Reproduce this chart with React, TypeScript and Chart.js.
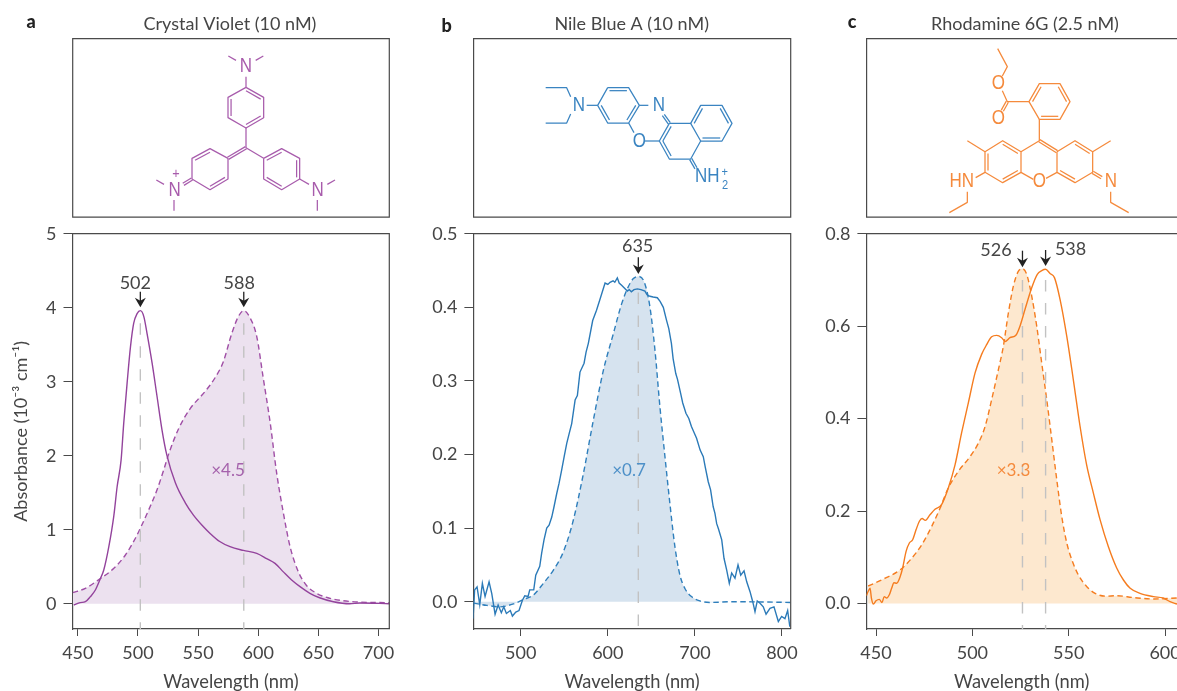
import React, { useEffect, useRef } from "react";
import { Chart, registerables } from "chart.js";

Chart.register(...registerables);

const W = 1177;
const H = 691;
const FONT = 'Lato, "Open Sans", sans-serif';
const INK = "#454545";
const FRAME = "#4a4a4a";
const GUIDE = "#c2c2c2";

// ---------- data ----------
const aSolidX = [446.7,452,456.3,460.5,464.6,468.8,471.6,475.8,479.9,482.7,486,488.2,491,493.8,496.5,499.3,502,504.9,507.6,511.8,515.9,520,524,531.2,539.5,546,553.3,560,568,576.6,587.7,598.8,607,614,620.9,627.8,634.8,643,651,662.5,676,684.6,709];
const aSolidY = [-0.018,0.014,0.027,0.095,0.185,0.34,0.455,0.77,1.18,1.58,1.94,2.44,2.98,3.47,3.79,3.92,3.96,3.88,3.65,3.25,2.8,2.35,2.01,1.63,1.36,1.2,1.06,0.95,0.84,0.77,0.72,0.68,0.61,0.545,0.43,0.32,0.23,0.14,0.08,0.027,0,0.01,0];
const aDashX = [445.8,456.3,468.8,480,489.6,497.9,502,509,515.9,521.5,525.7,534,543.6,553.3,557,564,571,578,583.5,588,593,598.8,604,610,615.4,621,626.5,633.4,640,648.6,658,670.8,684.6,709];
const aDashY = [0.149,0.208,0.34,0.478,0.658,0.884,1.02,1.27,1.54,1.81,2.03,2.37,2.64,2.82,2.89,3.05,3.27,3.65,3.88,3.96,3.87,3.61,3.07,2.44,1.76,1.22,0.77,0.43,0.25,0.14,0.08,0.04,0.022,0.013];
const aPeaks = [502, 588];
const aPeakTop = 3.79;

const bSolidX = [445.2,447,449.8,452.9,455.9,459,463.6,466.7,470.5,474,477.7,480.5,483.5,488,490.4,494.3,498,501.9,504.6,508.4,510.3,514.9,517.2,521.8,524,526.7,529.8,532.5,535.6,538,541.3,544,547,550,552.8,555.5,558.5,562.4,565,568,572.7,575,577.6,582.6,587,591.8,596.8,600,602.5,606,608,610.9,613,615.8,622.4,624.6,627,630,634,638,642.6,645,648.4,652,656.8,660,663.7,667.5,670,673,675,678,680,683.6,686,689.7,693,696,699,701.9,706,709.6,712,715.3,718,721,723,725,727,730.8,733.4,736.5,739.5,742.2,746,749.5,752.6,756.4,759.5,763.3,766.4,769,771.6,774.8,778.5,781.7,786.2,790.8,795.8,799.6,803.4,806.5,809];
const bSolidY = [-0.023,0.016,0.02,-0.004,0.025,0.007,0.027,0.011,-0.017,-0.0045,-0.015,-0.007,-0.016,-0.012,-0.0195,-0.014,-0.012,0.002,0.008,0.007,0.016,0.016,0.036,0.048,0.066,0.084,0.1,0.104,0.115,0.128,0.147,0.161,0.179,0.198,0.215,0.228,0.242,0.274,0.28,0.312,0.324,0.339,0.351,0.382,0.396,0.414,0.433,0.431,0.434,0.436,0.434,0.44,0.433,0.43,0.422,0.424,0.421,0.424,0.425,0.424,0.422,0.417,0.415,0.414,0.413,0.408,0.4,0.382,0.371,0.351,0.33,0.31,0.302,0.283,0.27,0.256,0.249,0.238,0.23,0.222,0.206,0.197,0.182,0.163,0.152,0.129,0.12,0.106,0.099,0.084,0.059,0.043,0.025,0.039,0.032,0.05,0.036,0.042,0.027,0.0136,0,-0.0136,0.001,-0.002,-0.007,-0.017,-0.009,-0.007,-0.027,-0.02,-0.023,-0.012,-0.034];
const bDashX = [445.7,461,476,491.6,503,514.5,526,537.5,549,560.4,571.9,583.4,594.8,606.3,615.9,623.5,629.3,635.4,641.9,648.4,654.1,659.8,665.6,671.3,677,682.8,688.5,696,705.7,717,744,809.8];
const bDashY = [-0.002,-0.005,-0.007,-0.003,0.003,0.009,0.025,0.043,0.068,0.111,0.174,0.247,0.314,0.364,0.405,0.428,0.439,0.442,0.434,0.4,0.342,0.265,0.197,0.133,0.075,0.036,0.018,0.007,0.001,-0.001,0,-0.001];
const bPeaks = [635];
const bPeakTop = 0.42;

const cSolidX = [445,445.9,446.9,447.6,448.6,450,451.7,453.1,454.2,455.5,456.9,458.1,459.3,460.7,462.5,463.8,465.6,467.3,469,470.8,472.5,473.9,475.6,478,480.6,484,487.5,491,494.4,497.9,501.4,504.8,507.4,510,512.6,515.2,517,519.5,522.7,524.7,527.3,530.8,533.7,536,538,540.3,542.6,545.5,549,552.4,555.9,559.3,562.8,566.3,570.6,574.9,578.4,581.9,587,594,599,602.6,606.2];
const cSolidY = [0.017,0.026,0.033,0.012,-0.001,0.006,0.009,0.002,0.015,0.012,0.019,0.033,0.045,0.044,0.058,0.077,0.113,0.131,0.138,0.16,0.178,0.184,0.18,0.192,0.204,0.214,0.25,0.3,0.369,0.434,0.499,0.539,0.56,0.577,0.58,0.575,0.567,0.575,0.581,0.6,0.636,0.683,0.712,0.72,0.723,0.714,0.705,0.658,0.578,0.484,0.383,0.3,0.239,0.181,0.123,0.077,0.051,0.033,0.022,0.015,0.012,0.004,-0.001];
const cDashX = [445.9,453.8,462.5,468.5,473.7,478.9,483.2,487.5,492.7,498.8,503.1,506.6,510,513.5,516.1,518.7,521.3,523.9,526.1,528.2,530.8,533.4,536,538.6,541.2,543.8,546.4,549,551.6,555,559.3,563.7,568.9,575,583.6,594,606.2];
const cDashY = [0.038,0.053,0.073,0.098,0.127,0.167,0.206,0.25,0.286,0.318,0.347,0.383,0.441,0.506,0.557,0.629,0.687,0.719,0.724,0.712,0.665,0.6,0.52,0.441,0.355,0.268,0.188,0.131,0.095,0.062,0.037,0.022,0.016,0.017,0.013,0.01,0.012];
const cPeaks = [526, 538];
const cPeakTop = 0.7;

const aXTicks = [450, 500, 550, 600, 650, 700];
const bXTicks = [500, 600, 700, 800];
const cXTicks = [450, 500, 550, 600];
const aYTicks = [0, 1, 2, 3, 4, 5];
const bYTicks = [0, 0.1, 0.2, 0.3, 0.4, 0.5];
const cYTicks = [0, 0.2, 0.4, 0.6, 0.8];

const aPeakLabels = ["502", "588"];
const bPeakLabels = ["635"];
const cPeakLabels = ["526", "538"];

// ---------- molecule drawings (crop-space geometry, 3 units = 1 px) ----------
type Mol = {
  ox: number; oy: number; color: string;
  lines: number[][]; inner: number[][]; pairs: number[][];
  labels: [string, number, number, number][];
};

const crystalViolet: Mol = {
  ox: 0, oy: 0, color: "#a85cac",
  lines: [
    [685,168,708,181],[790,168,767,181],[738,230,738,262],
    [738,262,791,292,791,353,738,384,684,353,684,292,738,262],
    [738,384,738,443,791,475],
    [684,475,684,537,630,569,576,537,576,475,630,446,684,475],
    [791,475,845,446,899,475,899,537,845,569,791,537,791,475],
    [899,537,927,553],[982,553,1005,540],[952,600,952,632],
    [469,540,492,553],[522,600,522,632],
  ],
  inner: [
    [738,262,791,292,738,323],[684,292,684,353,738,323],[791,353,738,384,738,323],
    [576,475,630,446,630,508],[684,537,630,569,630,508],
    [791,475,845,446,845,508],[899,475,899,537,845,508],[845,569,791,537,845,508],
  ],
  pairs: [[738,443,684,475],[576,537,550,553]],
  labels: [["N",738,197,20],["N",524,569,20],["+",528,519,15],["N",953,569,20]],
};

const nileBlue: Mol = {
  ox: 430, oy: 0, color: "#3a84c1",
  lines: [
    [533,263,596,263,628,316,596,369,533,369,503,316,533,263],
    [470,316,503,316],[422,290,410,263,347,263],[422,342,410,369,347,369],
    [628,316,655,316],[596,369,612,398],[645,423,688,423],
    [718,370,782,370,812,423,782,477,718,477,688,423,718,370],
    [782,370,812,316,876,316,906,370,876,423,812,423],
  ],
  inner: [
    [533,263,596,263,565,316],[628,316,596,369,565,316],[533,369,503,316,565,316],
    [718,370,688,423,750,423],[688,423,718,477,750,423],
    [812,316,782,370,844,370],[876,316,906,370,844,370],[812,423,876,423,844,370],
  ],
  pairs: [[700,345,718,370],[782,477,798,505]],
  labels: [["N",447,316,20],["N",687,316,20],["O",628,423,20],["NH",832,528,20],["2",885,556,13],["+",884,515,13]],
};

const rhodamine: Mol = {
  ox: 830, oy: 0, color: "#f58a3c",
  lines: [
    [503,146,532,200,517,228],[517,272,532,305,597,305],
    [597,305,628,251,690,251,720,305,690,358,628,358,597,305],
    [628,358,628,422,573,455],
    [573,455,518,422,465,455,465,517,518,548,573,517,573,455],
    [573,517,610,538],[648,535,681,517],
    [681,455,735,422,788,455,788,517,735,548,681,517,681,455],
    [465,455,412,422],[788,455,842,422],
    [465,517,437,533],[412,575,412,607,358,638],[842,575,842,607,896,638],
  ],
  inner: [
    [597,305,628,251,659,305],[690,251,720,305,659,305],[628,358,690,358,659,305],
    [573,455,518,422,518,486],[465,455,465,517,518,486],[518,548,573,517,518,486],
    [735,422,788,455,735,486],[681,517,735,548,735,486],
  ],
  pairs: [[532,305,517,332],[628,422,681,455],[788,517,815,533]],
  labels: [["O",505,250,20],["O",505,355,20],["O",628,542,20],["HN",395,543,20],["N",843,543,20]],
};

function drawMol(ctx: CanvasRenderingContext2D, m: Mol) {
  const px = (x: number) => m.ox + x / 3;
  const py = (y: number) => m.oy + y / 3;
  ctx.save();
  ctx.strokeStyle = m.color;
  ctx.fillStyle = m.color;
  ctx.lineWidth = 1.25;
  ctx.lineJoin = "round";
  for (const l of m.lines) {
    ctx.beginPath();
    ctx.moveTo(px(l[0]), py(l[1]));
    for (let i = 2; i < l.length; i += 2) ctx.lineTo(px(l[i]), py(l[i + 1]));
    ctx.stroke();
  }
  for (const [x1, y1, x2, y2, cx, cy] of m.inner) {
    const f = 0.17;
    const ax = x1 + (cx - x1) * f, ay = y1 + (cy - y1) * f;
    const bx = x2 + (cx - x2) * f, by = y2 + (cy - y2) * f;
    ctx.beginPath();
    ctx.moveTo(px(ax), py(ay));
    ctx.lineTo(px(bx), py(by));
    ctx.stroke();
  }
  for (const [x1, y1, x2, y2] of m.pairs) {
    const d = Math.hypot(x2 - x1, y2 - y1);
    const nx = ((y2 - y1) / d) * 3.6, ny = (-(x2 - x1) / d) * 3.6;
    for (const s of [-1, 1]) {
      ctx.beginPath();
      ctx.moveTo(px(x1 + s * nx), py(y1 + s * ny));
      ctx.lineTo(px(x2 + s * nx), py(y2 + s * ny));
      ctx.stroke();
    }
  }
  ctx.textAlign = "center";
  ctx.textBaseline = "middle";
  for (const [t, x, y, size] of m.labels) {
    ctx.save();
    ctx.translate(px(x), py(y) + 0.5);
    ctx.scale(0.85, 1);
    ctx.font = `${size}px "Liberation Sans", sans-serif`;
    ctx.fillText(t, 0, 0);
    ctx.restore();
  }
  ctx.restore();
}

// ---------- panels ----------
type Panel = {
  letter: string; letterX: number; letterY: number;
  name: string; nameX: number;
  left: number; right: number; noRight?: boolean;
  xMin: number; xMax: number; yMin: number; yMax: number;
  xTicks: number[]; yTicks: number[]; decimals: number;
  yTitle?: string;
  color: string; fill: string; dashColor: string; noisy?: boolean;
  solidX: number[]; solidY: number[]; dashX: number[]; dashY: number[];
  peaks: number[]; peakLabels: string[]; peakTop: number;
  labelPos: [number, number][]; arrow: [number, number][];
  factor: string; factorPos: [number, number]; factorColor: string;
  mol: Mol;
};

const PLOT_TOP = 233.7;
const PLOT_BOTTOM = 629;
const BOX_TOP = 38.7;
const BOX_BOTTOM = 217.2;

const panels: Panel[] = [
  {
    letter: "a", letterX: 31, letterY: 22, name: "Crystal Violet (10 nM)", nameX: 230,
    left: 72.5, right: 389.3, xMin: 445.6, xMax: 709, yMin: -0.342, yMax: 5,
    xTicks: aXTicks, yTicks: aYTicks, decimals: 0, yTitle: "Absorbance (10⁻³ cm⁻¹)",
    color: "#93439c", fill: "#ece1ef", dashColor: "#a04fa6",
    solidX: aSolidX, solidY: aSolidY, dashX: aDashX, dashY: aDashY,
    peaks: aPeaks, peakLabels: aPeakLabels, peakTop: aPeakTop,
    labelPos: [[-5, 283], [-4.5, 283]], arrow: [[291.7, 307.3], [291.7, 307.3]],
    factor: "×4.5", factorPos: [228, 470.5], factorColor: "#a562ac", mol: crystalViolet,
  },
  {
    letter: "b", letterX: 446.7, letterY: 26, name: "Nile Blue A (10 nM)", nameX: 631.7,
    left: 473.4, right: 790.7, xMin: 445.6, xMax: 810, yMin: -0.0371, yMax: 0.5,
    xTicks: bXTicks, yTicks: bYTicks, decimals: 1, noisy: true,
    color: "#2b7ab8", fill: "#d6e3ef", dashColor: "#2f7fbc",
    solidX: bSolidX, solidY: bSolidY, dashX: bDashX, dashY: bDashY,
    peaks: bPeaks, peakLabels: bPeakLabels, peakTop: bPeakTop,
    labelPos: [[-0.7, 246]], arrow: [[257.3, 274]],
    factor: "×0.7", factorPos: [629, 470.5], factorColor: "#4d90c8", mol: nileBlue,
  },
  {
    letter: "c", letterX: 852, letterY: 22, name: "Rhodamine 6G (2.5 nM)", nameX: 1025,
    left: 866.4, right: W, noRight: true, xMin: 445, xMax: 606.2, yMin: -0.055, yMax: 0.8,
    xTicks: cXTicks, yTicks: cYTicks, decimals: 1,
    color: "#f57c1f", fill: "#fde8cf", dashColor: "#f57c1f",
    solidX: cSolidX, solidY: cSolidY, dashX: cDashX, dashY: cDashY,
    peaks: cPeaks, peakLabels: cPeakLabels, peakTop: cPeakTop,
    labelPos: [[-26.5, 250], [25, 249]], arrow: [[250.7, 267.3], [250, 266]],
    factor: "×3.3", factorPos: [1013.5, 470.5], factorColor: "#f58a3c", mol: rhodamine,
  },
];

function makeConfig(p: Panel): any {
  const toXY = (xs: number[], ys: number[]) => xs.map((x, i) => ({ x, y: ys[i] }));
  const guides = p.peaks.map((x) => ({
    label: `peak ${x}`,
    data: [{ x, y: p.peakTop }, { x, y: p.yMin }],
    borderColor: GUIDE, borderWidth: 1.4, borderDash: [11.5, 11.5],
    pointRadius: 0, fill: false, order: 2, tension: 0,
  }));
  return {
    type: "line",
    data: {
      datasets: [
        {
          label: "absorbance",
          data: toXY(p.solidX, p.solidY),
          borderColor: p.color, borderWidth: 1.4, pointRadius: 0, fill: false,
          cubicInterpolationMode: p.noisy ? "default" : "monotone",
          tension: 0, order: 1,
        },
        ...guides,
        {
          label: "reference",
          data: toXY(p.dashX, p.dashY),
          borderColor: p.dashColor, borderWidth: 1.4, borderDash: [5.5, 3.5], pointRadius: 0,
          fill: "origin", backgroundColor: p.fill,
          cubicInterpolationMode: "monotone", order: 3,
        },
      ],
    },
    options: {
      responsive: false,
      animation: false,
      events: [],
      devicePixelRatio: 1,
      layout: { padding: { left: 0, top: PLOT_TOP, right: W - p.right, bottom: 0 } },
      plugins: { legend: { display: false }, tooltip: { enabled: false }, title: { display: false } },
      scales: {
        x: {
          type: "linear", min: p.xMin, max: p.xMax,
          grid: { drawOnChartArea: false, drawTicks: true, tickLength: 7, color: FRAME, lineWidth: 1 },
          border: { display: true, color: FRAME, width: 1.2 },
          ticks: {
            color: INK, font: { family: FONT, size: 18 }, padding: 6, maxRotation: 0, autoSkip: false,
            callback: (v: number) => String(v),
          },
          afterBuildTicks: (s: any) => { s.ticks = p.xTicks.map((value) => ({ value })); },
          afterFit: (s: any) => {
            s.height = H - PLOT_BOTTOM; s.paddingLeft = 0; s.paddingRight = 0; s.paddingTop = 0; s.paddingBottom = 0;
          },
          title: {
            display: true, text: "Wavelength (nm)", color: INK,
            font: { family: FONT, size: 18.3, lineHeight: 1 }, padding: { top: 0, bottom: 0 },
          },
        },
        y: {
          type: "linear", min: p.yMin, max: p.yMax,
          grid: { drawOnChartArea: false, drawTicks: true, tickLength: 9, color: FRAME, lineWidth: 1 },
          border: { display: true, color: FRAME, width: 1.2 },
          ticks: {
            color: INK, font: { family: FONT, size: 18 }, padding: 7, autoSkip: false,
            callback: (v: number) => v.toFixed(p.decimals),
          },
          afterBuildTicks: (s: any) => { s.ticks = p.yTicks.map((value) => ({ value })); },
          afterFit: (s: any) => {
            s.width = p.left; s.paddingTop = 0; s.paddingBottom = 0; s.paddingLeft = 0; s.paddingRight = 0;
          },
          title: {
            display: !!p.yTitle, text: p.yTitle ?? "", color: INK,
            font: { family: FONT, size: 18, lineHeight: 1 }, padding: { top: 12, bottom: 0 },
          },
        },
      },
    },
    plugins: [
      {
        id: "panelDecor",
        afterDraw(chart: any) {
          const ctx: CanvasRenderingContext2D = chart.ctx;
          const { left, right, top, bottom } = chart.chartArea;
          const sx = chart.scales.x;
          ctx.save();
          ctx.strokeStyle = FRAME;
          ctx.lineWidth = 1.2;
          ctx.beginPath();
          ctx.moveTo(left, top);
          ctx.lineTo(right, top);
          if (!p.noRight) ctx.lineTo(right, bottom);
          ctx.stroke();
          ctx.beginPath();
          ctx.moveTo(p.noRight ? W + 2 : p.right, BOX_TOP);
          ctx.lineTo(p.left + 0.2, BOX_TOP);
          ctx.lineTo(p.left + 0.2, BOX_BOTTOM);
          ctx.lineTo(p.noRight ? W + 2 : p.right, BOX_BOTTOM);
          if (!p.noRight) ctx.closePath();
          ctx.stroke();
          ctx.textAlign = "center";
          ctx.textBaseline = "middle";
          ctx.fillStyle = "#222";
          ctx.font = `900 18px ${FONT}`;
          ctx.fillText(p.letter, p.letterX, p.letterY);
          ctx.fillStyle = INK;
          ctx.font = `18px ${FONT}`;
          ctx.fillText(p.name, p.nameX, 24);
          p.peaks.forEach((v, i) => {
            const x = sx.getPixelForValue(v);
            const [y0, y1] = p.arrow[i];
            ctx.fillStyle = INK;
            ctx.font = `18px ${FONT}`;
            ctx.fillText(p.peakLabels[i], x + p.labelPos[i][0], p.labelPos[i][1]);
            ctx.strokeStyle = "#222";
            ctx.fillStyle = "#222";
            ctx.lineWidth = 1.3;
            ctx.beginPath();
            ctx.moveTo(x, y0);
            ctx.lineTo(x, y1 - 6);
            ctx.stroke();
            ctx.beginPath();
            ctx.moveTo(x, y1);
            ctx.lineTo(x - 5.5, y1 - 9.5);
            ctx.lineTo(x, y1 - 6.5);
            ctx.lineTo(x + 5.5, y1 - 9.5);
            ctx.closePath();
            ctx.fill();
          });
          ctx.fillStyle = p.factorColor;
          ctx.font = `17px ${FONT}`;
          ctx.fillText(p.factor, p.factorPos[0], p.factorPos[1]);
          ctx.restore();
          drawMol(ctx, p.mol);
        },
      },
    ],
  };
}

function PanelCanvas({ panel }: { panel: Panel }) {
  const ref = useRef<HTMLCanvasElement>(null);
  useEffect(() => {
    const chart = new Chart(ref.current as HTMLCanvasElement, makeConfig(panel));
    return () => chart.destroy();
  }, [panel]);
  return (
    <canvas ref={ref} width={W} height={H}
      style={{ position: "absolute", left: 0, top: 0, width: W, height: H, display: "block" }} />
  );
}

export default function App() {
  return (
    <div style={{ position: "fixed", left: 0, top: 0, width: W, height: H, overflow: "hidden", background: "#fff" }}>
      {panels.map((p) => <PanelCanvas key={p.letter} panel={p} />)}
    </div>
  );
}
